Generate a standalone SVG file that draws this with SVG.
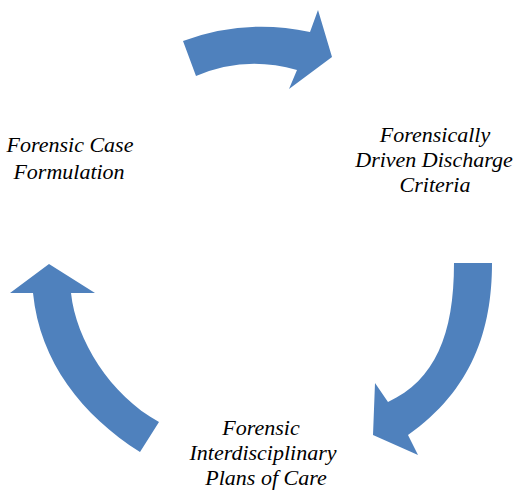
<svg xmlns="http://www.w3.org/2000/svg" width="514" height="494" viewBox="0 0 514 494">
<style>
.arrow{fill:#4F81BD;stroke:none}
.lbl{font-family:"Liberation Serif","Times New Roman",serif;font-style:italic;font-size:22px;fill:#000;text-anchor:middle}
</style>
<rect width="514" height="494" fill="#fff"/>
<g id="connectors">
<path id="arrow-top" class="arrow" d="M183,41 Q245,18 310,32 L318,10 L332,57 L289,89 L297,70 Q245,55 196,76 Z"/>
<path id="arrow-right" class="arrow" d="M454,263 L492,263 C492,330 472,390 408,435 L418,455 L373,435 L375,383 L388,402 C435,380 454,335 454,263 Z"/>
<path id="arrow-left" class="arrow" d="M49,264 L95,293 L71,293 C76,340 110,395 159,422 L140,452 C82,415 40,362 33,293 L10,293 Z"/>
</g>
<g id="node-formulation">
<text class="lbl" x="70" y="152">Forensic Case</text>
<text class="lbl" x="69" y="179">Formulation</text>
</g>
<g id="node-discharge">
<text class="lbl" x="435" y="142">Forensically</text>
<text class="lbl" x="434" y="167">Driven Discharge</text>
<text class="lbl" x="435" y="192">Criteria</text>
</g>
<g id="node-plans">
<text class="lbl" x="261" y="435">Forensic</text>
<text class="lbl" x="263" y="460">Interdisciplinary</text>
<text class="lbl" x="266" y="485">Plans of Care</text>
</g>
</svg>
